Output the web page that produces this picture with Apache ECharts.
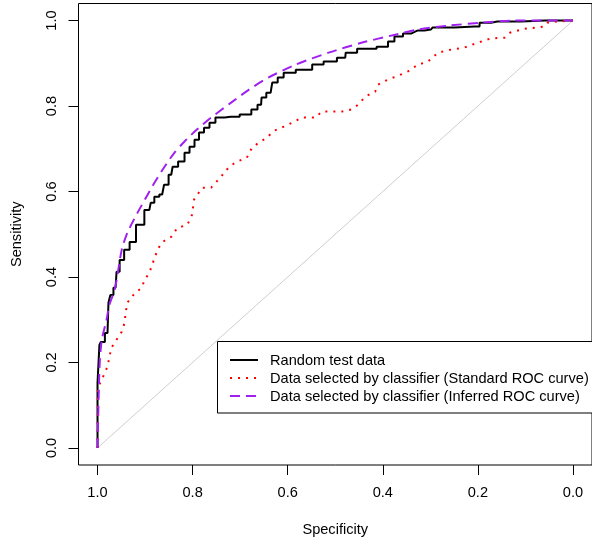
<!DOCTYPE html>
<html>
<head>
<meta charset="utf-8">
<script src="https://cdn.jsdelivr.net/npm/echarts@6/dist/echarts.min.js"></script>
<style>
html,body{margin:0;padding:0;background:#fff;}
#chart{width:592px;height:544px;}
</style>
</head>
<body>
<div id="chart"></div>
<script>
// Tick values
const xTicks = [0, 0.2, 0.4, 0.6, 0.8, 1.0];
const yTicks = [0, 0.2, 0.4, 0.6, 0.8, 1.0];

// Diagonal reference line
const diagSpec = [1, 0];
const diagSens = [0, 1];

// Random test data (black step curve)
const randomSpec = [1.000,1.000,0.996,0.996,0.990,0.979,0.975,0.971,0.962,0.958,0.949,0.939,0.926,0.912,0.891,0.885,0.876,0.864,0.856,0.845,0.839,0.822,0.812,0.801,0.791,0.782,0.770,0.759,0.745,0.720,0.682,0.671,0.656,0.654,0.636,0.629,0.613,0.604,0.562,0.535,0.514,0.479,0.477,0.431,0.395,0.383,0.368,0.347,0.332,0.326,0.299,0.291,0.207,0.186,0.159,0.059,0.000];
const randomSens = [0.000,0.152,0.152,0.241,0.248,0.269,0.340,0.358,0.375,0.412,0.440,0.464,0.482,0.522,0.557,0.574,0.588,0.593,0.616,0.639,0.658,0.670,0.691,0.705,0.721,0.738,0.749,0.761,0.773,0.775,0.780,0.792,0.803,0.820,0.831,0.855,0.867,0.878,0.885,0.897,0.904,0.913,0.925,0.934,0.939,0.951,0.963,0.970,0.974,0.977,0.979,0.984,0.986,0.995,0.998,1.000,1.000];

// Data selected by classifier (Standard ROC curve) - red dotted
const standardSpec = [1.000,0.999,0.991,0.985,0.979,0.975,0.971,0.960,0.949,0.943,0.941,0.937,0.928,0.918,0.907,0.901,0.891,0.876,0.866,0.845,0.832,0.811,0.801,0.797,0.780,0.761,0.740,0.723,0.707,0.686,0.675,0.661,0.644,0.629,0.608,0.587,0.571,0.541,0.529,0.487,0.466,0.452,0.437,0.416,0.410,0.389,0.368,0.347,0.326,0.305,0.284,0.257,0.228,0.201,0.174,0.144,0.132,0.102,0.075,0.061,0.054,0.033,0.000];
const standardSens = [0.000,0.143,0.159,0.176,0.190,0.213,0.234,0.253,0.272,0.293,0.316,0.340,0.354,0.365,0.375,0.393,0.410,0.457,0.480,0.494,0.515,0.522,0.546,0.581,0.609,0.609,0.635,0.658,0.670,0.679,0.703,0.714,0.726,0.742,0.752,0.763,0.773,0.773,0.787,0.787,0.792,0.803,0.822,0.834,0.850,0.862,0.871,0.881,0.897,0.904,0.925,0.932,0.937,0.948,0.958,0.960,0.972,0.981,0.984,0.986,0.995,0.998,1.000];

// Data selected by classifier (Inferred ROC curve) - purple dashed
const inferredSpec = [1.000,0.997,0.995,0.991,0.981,0.975,0.964,0.958,0.949,0.937,0.916,0.897,0.880,0.859,0.838,0.817,0.791,0.761,0.719,0.682,0.640,0.583,0.514,0.445,0.374,0.326,0.263,0.194,0.123,0.000];
const inferredSens = [0.000,0.148,0.206,0.253,0.300,0.335,0.370,0.405,0.464,0.504,0.550,0.588,0.621,0.658,0.691,0.717,0.745,0.773,0.808,0.838,0.867,0.897,0.925,0.948,0.967,0.979,0.988,0.995,1.000,1.000];

const legendLabels = [
  'Random test data',
  'Data selected by classifier (Standard ROC curve)',
  'Data selected by classifier (Inferred ROC curve)'
];

const zip = (a, b) => a.map((v, i) => [v, b[i]]);
const FONT = '"Liberation Sans", Arial, sans-serif';
const FS = 14.6;

const chart = echarts.init(document.getElementById('chart'), null, {renderer: 'canvas'});

const legendY = [360, 378, 396];
const legendStyles = [
  {stroke: '#000000', lineWidth: 2},
  {stroke: '#FF0000', lineWidth: 2, lineDash: [2, 6]},
  {stroke: '#A020F0', lineWidth: 2, lineDash: [10, 6]}
];
const legendEls = [
  {type: 'rect', shape: {x: 217.5, y: 341.5, width: 400, height: 71.5},
   style: {fill: '#fff', stroke: '#000', lineWidth: 1}}
];
legendLabels.forEach((t, i) => {
  legendEls.push({type: 'line', shape: {x1: 230, y1: legendY[i], x2: 258, y2: legendY[i]}, style: legendStyles[i]});
  legendEls.push({type: 'text', x: 270, y: legendY[i] + 1,
    style: {text: t, font: FS + 'px ' + FONT, fill: '#000', textVerticalAlign: 'middle', verticalAlign: 'middle'}});
});

const option = {
  animation: false,
  backgroundColor: '#ffffff',
  grid: {left: 78.5, top: 3.5, width: 516, height: 461.5, show: true, borderColor: '#000', borderWidth: 1, containLabel: false},
  xAxis: {
    type: 'value', inverse: true, min: -0.04, max: 1.04,
    name: 'Specificity', nameLocation: 'middle', nameGap: 57,
    nameTextStyle: {fontFamily: FONT, fontSize: FS, color: '#000'},
    axisLine: {show: false, onZero: false},
    splitLine: {show: false},
    axisTick: {show: true, length: 10, customValues: xTicks, lineStyle: {color: '#000', width: 1}},
    axisLabel: {customValues: xTicks, formatter: v => v.toFixed(1), margin: 20, fontFamily: FONT, fontSize: FS, color: '#000'}
  },
  yAxis: {
    type: 'value', min: -0.04, max: 1.04,
    name: 'Sensitivity', nameLocation: 'middle', nameGap: 54,
    nameTextStyle: {fontFamily: FONT, fontSize: FS, color: '#000'},
    axisLine: {show: false, onZero: false},
    splitLine: {show: false},
    axisTick: {show: true, length: 10, customValues: yTicks, lineStyle: {color: '#000', width: 1}},
    axisLabel: {customValues: yTicks, formatter: v => v.toFixed(1), rotate: 90, margin: 19, fontFamily: FONT, fontSize: FS, color: '#000'}
  },
  series: [
    {type: 'line', data: zip(diagSpec, diagSens), symbol: 'none', silent: true,
     lineStyle: {color: '#cfcfcf', width: 1}},
    {type: 'line', data: zip(randomSpec, randomSens), symbol: 'none', step: 'middle',
     lineStyle: {color: '#000', width: 2}},
    {type: 'line', data: zip(standardSpec, standardSens), symbol: 'none',
     lineStyle: {color: '#FF0000', width: 2, type: [2, 6]}},
    {type: 'line', data: zip(inferredSpec, inferredSens), symbol: 'none', smooth: 0.25,
     lineStyle: {color: '#A020F0', width: 2, type: [10, 6]}}
  ],
  graphic: [{type: 'group', z: 100, children: legendEls}]
};
chart.setOption(option);
</script>
</body>
</html>
